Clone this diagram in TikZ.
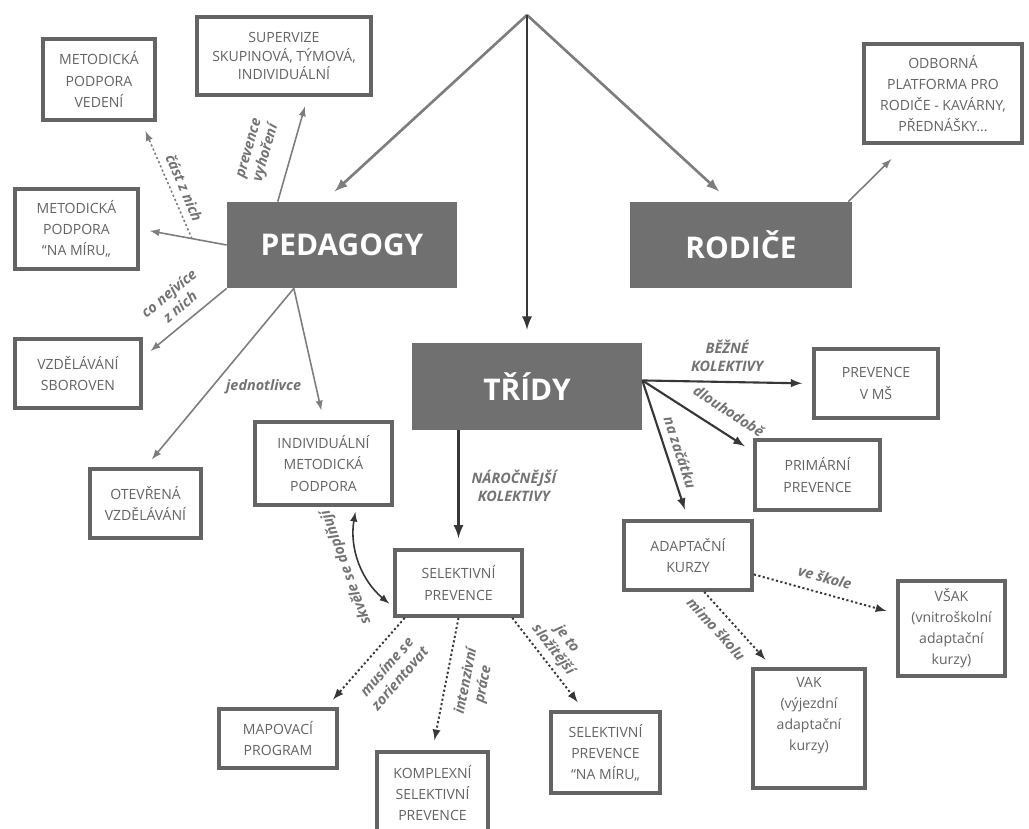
\documentclass[tikz,border=0pt]{standalone}
\usepackage{fontspec}
\setmainfont{Open Sans}

\definecolor{boxline}{RGB}{100,100,100}
\definecolor{boxtext}{RGB}{100,100,100}
\definecolor{mainfill}{RGB}{112,112,112}
\definecolor{labtext}{RGB}{115,115,115}
\definecolor{lightline}{RGB}{125,125,125}
\definecolor{darkline}{RGB}{55,55,55}

\begin{document}
\begin{tikzpicture}[x=0.2mm, y=-0.2mm, >=latex,
	box/.style={draw=boxline, line width=2.2pt, text=boxtext, align=center,
		font=\fontsize{8}{12}\selectfont, inner sep=0pt},
	main/.style={fill=mainfill, text=white, font=\fontsize{17}{20}\selectfont\bfseries},
	lab/.style={text=labtext, font=\fontsize{8.2}{10}\selectfont\bfseries\itshape,
		align=center, inner sep=1pt},
	trunk/.style={->, draw=lightline, line width=1.5pt, shorten >=3mm},
	light/.style={->, draw=lightline, line width=0.9pt, shorten >=2mm},
	dark/.style={->, draw=darkline, line width=1.2pt, shorten >=2mm},
	dots/.style={->, draw=darkline, line width=1.1pt, dash pattern=on 1.2pt off 1.4pt, shorten >=2mm},
]
	\useasboundingbox (0,0) rectangle (1029,828);
	\fill[white] (0,0) rectangle (1029,828);

	% === NODES === (((
	\coordinate (top) at (527,15);

	\node[main, minimum width=46mm, minimum height=17.2mm] (ped) at (342,245) {PEDAGOGY};
	\node[main, minimum width=44.4mm, minimum height=17.2mm] (rod) at (741,245) {RODIČE};
	\node[main, minimum width=46mm, minimum height=17.4mm] (tridy) at (527,386.5) {TŘÍDY};

	\node[box, minimum width=34.8mm, minimum height=15.6mm, font=\fontsize{8}{10.5}\selectfont] (sup) at (284,56) {SUPERVIZE\\SKUPINOVÁ, TÝMOVÁ,\\INDIVIDUÁLNÍ};
	\node[box, minimum width=22.4mm, minimum height=16.2mm] (mpv) at (99,79.5) {METODICKÁ\\PODPORA\\VEDENÍ};
	\node[box, minimum width=24.6mm, minimum height=16mm] (mpm) at (76.5,229) {METODICKÁ\\PODPORA\\“NA MÍRU„};
	\node[box, minimum width=25.2mm, minimum height=13.8mm] (vzs) at (78,373.5) {VZDĚLÁVÁNÍ\\SBOROVEN};
	\node[box, minimum width=22.2mm, minimum height=13.8mm] (otv) at (145.5,503.5) {OTEVŘENÁ\\VZDĚLÁVÁNÍ};
	\node[box, minimum width=27.4mm, minimum height=16.6mm] (imp) at (323.5,463.5) {INDIVIDUÁLNÍ\\METODICKÁ\\PODPORA};

	\node[box, minimum width=25.4mm, minimum height=13.2mm] (selp) at (458.5,583) {SELEKTIVNÍ\\PREVENCE};
	\node[box, minimum width=23.6mm, minimum height=11.8mm] (map) at (278,738.5) {MAPOVACÍ\\PROGRAM};
	\node[box, minimum width=22.2mm, minimum height=16.4mm] (ksp) at (432.5,793) {KOMPLEXNÍ\\SELEKTIVNÍ\\PREVENCE};
	\node[box, minimum width=21.8mm, minimum height=16.2mm] (snm) at (605.5,752.5) {SELEKTIVNÍ\\PREVENCE\\“NA MÍRU„};

	\node[box, minimum width=31.6mm, minimum height=19.8mm] (odb) at (943,93.5) {ODBORNÁ\\PLATFORMA PRO\\RODIČE - KAVÁRNY,\\PŘEDNÁŠKY...};

	\node[box, minimum width=24.8mm, minimum height=13.8mm] (pms) at (876,383.5) {PREVENCE\\V MŠ};
	\node[box, minimum width=25mm, minimum height=14mm] (pri) at (817.5,475) {PRIMÁRNÍ\\PREVENCE};
	\node[box, minimum width=25.6mm, minimum height=13.8mm] (adk) at (688,555.5) {ADAPTAČNÍ\\KURZY};
	\node[box, minimum width=21.4mm, minimum height=19mm] (vsak) at (951.5,628.5) {VŠAK\\(vnitroškolní\\adaptační\\kurzy)};
	\node[box, minimum width=22.4mm, minimum height=23.8mm] (vak) at (809,728.5) {};
	\node[box, draw=none] (vaktext) at (809,716) {VAK\\(výjezdní\\adaptační\\kurzy)};
	% )))

	% === LINES === (((
	\draw[trunk] (top) -- (ped.113);
	\draw[trunk] (top) -- (rod.104);
	\draw[dark, line width=1.6pt, shorten >=2.6mm] (top) -- (tridy.north);

	\draw[light] (ped.146) -- (sup.-60) node[lab, pos=0.4, sloped, above=3mm] {prevence\\vyhoření};
	\draw[light] (ped.west) -- coordinate[pos=0.4] (split) (mpm.east);
	\draw[dots, draw=lightline, line width=0.9pt] (split) -- (mpv.-45) node[lab, pos=0.39, sloped, above=1mm] {část z nich};
	\draw[light] (ped.south west) -- (vzs.14) node[lab, pos=0.44, sloped, above=1.5mm] {co nejvíce\\z nich};
	\draw[light] (ped.222) -- (otv.north);
	\draw[light] (ped.222) -- (imp.north) node[lab, pos=0.75, left=2.5mm] {jednotlivce};

	\draw[light, shorten >=4mm] (rod.22) -- (odb.234);

	\draw[dark, line width=1.5pt] (selp.north |- tridy.south) -- (selp.north) node[lab, pos=0.47, right=2mm] {NÁROČNĚJŠÍ\\KOLEKTIVY};
	\draw[dark] (tridy.3) -- (pms.west) node[lab, pos=0.5, above=1.5mm] {BĚŽNÉ\\KOLEKTIVY};
	\draw[dark] (tridy.3) -- (pri.160) node[lab, pos=0.68, sloped, above=2.5mm] {dlouhodobě};
	\draw[dark] (tridy.3) -- (adk.north) node[lab, pos=0.55, sloped, above=1mm] {na začátku};

	\draw[dots] (selp.213) -- (map.33) node[lab, pos=0.41, sloped, below=2mm] {musíme se\\zorientovat};
	\draw[dots] (selp.south) -- (ksp.north) node[lab, pos=0.45, sloped, below=2mm] {intenzivní\\práce};
	\draw[dots] (selp.-33) -- (snm.117) node[lab, pos=0.43, sloped, above=0.5mm] {je to\\složitější};
	\draw[<->, draw=darkline, line width=0.9pt, shorten >=1mm, shorten <=1mm] (selp.200) to[bend left=30] node[lab, sloped, allow upside down, above=1mm] {skvěle se doplňují} (imp.-53);

	\draw[dots] (adk.-16) -- (vsak.165) node[lab, pos=0.47, sloped, above=1.5mm] {ve škole};
	\draw[dots] (adk.-66) -- (vak.121) node[lab, pos=0.35, sloped, below=1.5mm] {mimo školu};
	% )))

\end{tikzpicture}
\end{document}
